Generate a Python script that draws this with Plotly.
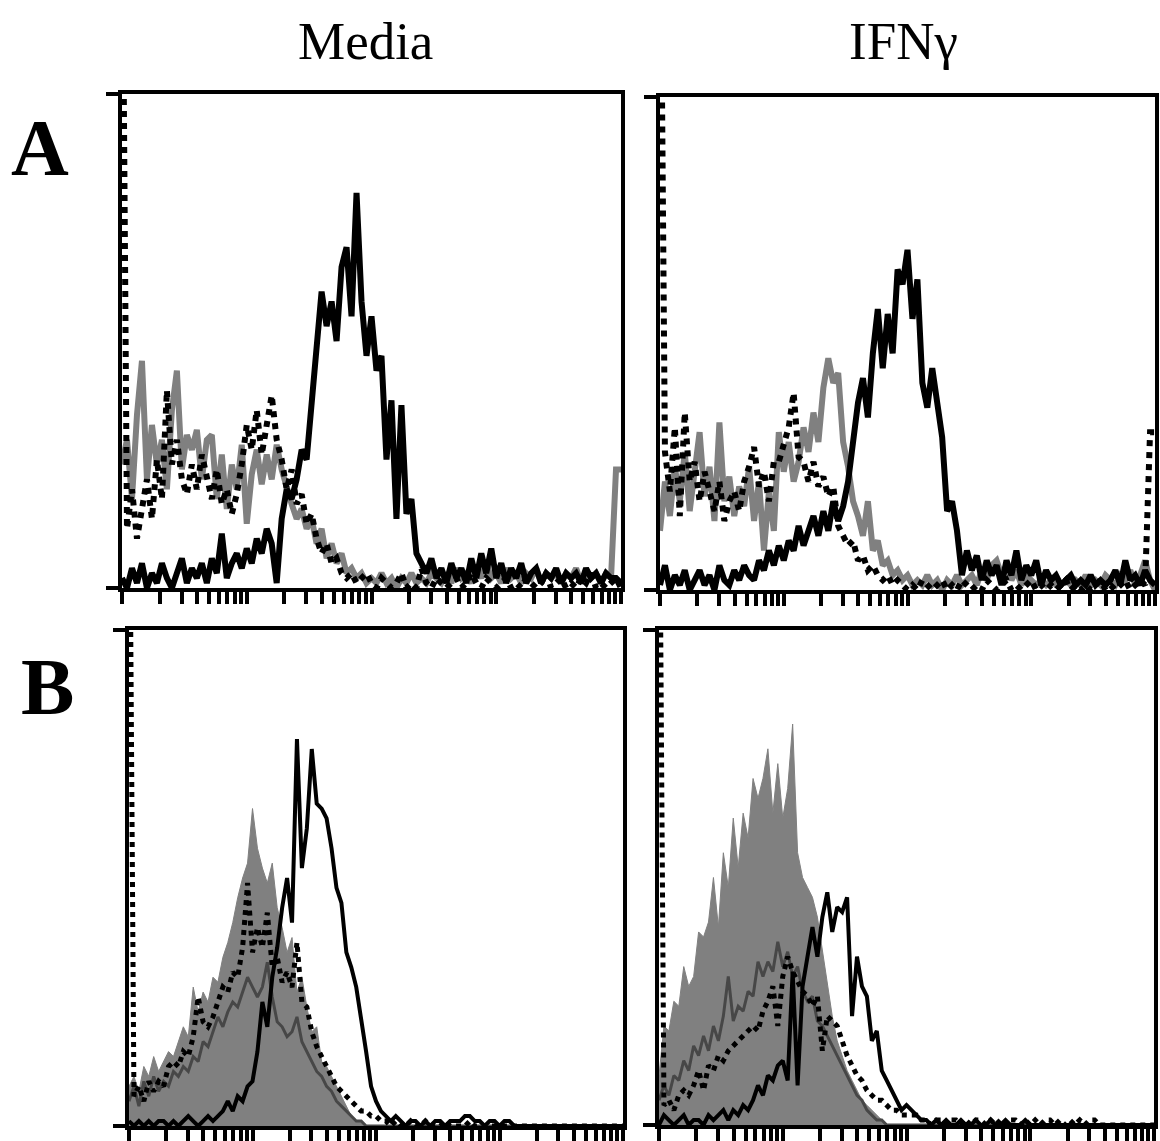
import plotly.graph_objects as go

W, H = 1160, 1141

# ---- bins (4-decade log scale, 101 bins) ----
bin_decade = [i / 25 for i in range(101)]
bin_x = [10 ** d for d in bin_decade]

# ---- Panel A, Media ----
a_media_gray = [25,30,18,35,46,22,33,25,30,20, 36,44,24,31,28,32,22,30,31,18,
                27,16,25,20,29,13,23,28,21,27, 22,29,24,20,17,14,16,12,14,9,
                12,6,9,5,7,3,4,2,3,1, 2,1,3,1,2,0,2,1,3,1,
                2,1,3,2,1,3,1,4,2,3, 1,4,2,5,2,3,1,4,2,3,
                1,3,2,4,1,3,2,3,1,3, 2,4,1,3,2,3,1,3,2,24, 24]
a_media_dotted = [150,12,20,10,16,22,14,26,18,40, 25,30,22,19,25,20,27,22,18,24,
                  17,20,15,19,25,33,28,36,27,33, 39,30,26,20,24,17,19,13,15,10,
                  7,9,5,6,3,2,3,1,2,3, 1,0,2,1,0,1,3,0,1,0,
                  4,1,0,2,1,0,1,2,0,1, 3,1,0,2,1,0,1,2,0,1,
                  0,2,1,0,1,3,0,1,2,0, 1,0,2,1,3,0,1,0,1,2, 0]
a_media_black = [2,0,4,1,5,0,3,1,5,2, 0,3,6,1,4,2,5,1,6,3,
                 11,2,5,7,4,8,5,10,7,12, 9,1,14,20,18,22,28,26,37,46,
                 60,53,58,50,65,69,55,80,58,47, 55,44,47,26,38,14,37,15,18,7,
                 5,3,6,2,4,1,5,2,4,1, 6,2,7,3,8,2,5,1,4,2,
                 5,1,3,4,1,3,2,4,1,3, 2,3,1,4,2,3,1,3,2,2, 1]

# ---- Panel A, IFNγ ----
a_ifn_gray = [12,22,15,25,18,28,16,24,32,19, 25,14,34,18,23,15,21,17,25,14,
              22,8,20,12,32,24,30,22,26,33, 28,36,30,41,47,42,44,30,25,18,
              15,11,18,8,10,5,6,3,4,2, 3,1,2,1,3,1,2,0,2,1,
              3,1,2,3,1,4,2,5,6,3, 5,2,4,1,3,2,1,2,1,2,
              1,1,2,1,2,1,3,1,2,1, 3,2,1,3,2,4,1,3,6,2, 0]
a_ifn_dotted = [150,28,20,33,15,36,22,26,18,24, 20,16,22,14,18,20,16,22,25,29,
                21,24,18,26,26,30,33,40,27,26, 22,26,21,23,19,21,13,11,9,10,
                6,7,4,5,3,2,3,1,2,1, 0,1,0,2,1,0,1,2,0,1,
                0,2,1,0,1,0,2,1,0,1, 2,0,1,0,1,2,0,1,0,1,
                0,1,2,0,1,0,1,0,1,2, 0,1,0,1,2,0,1,2,1,32, 32]
a_ifn_black = [1,5,0,3,1,4,0,2,4,1, 3,0,5,2,1,4,2,5,3,2,
               6,4,8,5,9,6,10,8,13,9, 12,15,11,16,12,18,14,17,22,30,
               38,43,35,48,57,45,56,48,65,62, 69,55,63,42,37,45,38,31,16,18,
               12,3,8,4,7,2,6,3,5,1, 6,3,8,2,5,3,6,1,4,2,
               3,1,2,3,1,2,1,3,1,2, 1,2,4,1,6,2,3,1,4,2, 1]

# ---- Panel B, Media ----
b_media_fill = [8,10,7,12,10,14,11,13,15,14, 17,20,18,28,23,27,25,30,29,34,
                37,41,46,50,53,64,56,52,49,53, 44,40,35,38,27,30,24,19,20,13,
                12,10,8,6,4,2,1,1,0,0, 0,0,0,0,0,0,0,0,0,0,
                0,0,0,0,0,0,0,0,0,0, 0,0,0,0,0,0,0,0,0,0,
                0,0,0,0,0,0,0,0,0,0, 0,0,0,0,0,0,0,0,0,0, 0]
b_media_darkgray = [5,8,4,9,6,10,7,9,8,11, 10,12,11,14,13,17,16,19,22,20,
                    23,25,24,27,30,28,26,28,33,26, 21,20,18,19,22,17,15,13,11,10,
                    8,7,5,4,3,2,1,1,0,0, 0,0,0,0,0,0,0,0,0,0,
                    0,0,0,0,0,0,0,0,0,0, 0,0,0,0,0,0,0,0,0,0,
                    0,0,0,0,0,0,0,0,0,0, 0,0,0,0,0,0,0,0,0,0, 0]
b_media_dotted = [150,6,8,5,9,7,9,8,12,13, 12,15,14,18,26,21,20,22,25,28,
                  27,31,30,36,49,35,40,36,43,32, 34,29,31,28,37,25,24,19,16,14,
                  12,10,8,7,6,5,4,3,3,2, 2,1,1,0,1,0,0,1,0,0,
                  1,0,0,0,1,0,0,0,0,1, 0,0,0,0,0,0,0,0,0,0,
                  0,0,0,0,0,0,0,0,0,0, 0,0,0,0,0,0,0,0,0,0, 0]
b_media_black = [1,0,1,0,1,0,1,1,0,1, 0,1,2,1,0,1,2,1,2,3,
                 5,3,6,5,8,9,15,25,20,30, 36,44,50,41,78,52,60,76,65,64,
                 62,56,48,45,35,32,28,22,15,8, 5,3,2,1,2,1,0,1,1,0,
                 1,0,1,1,0,1,1,1,2,2, 1,1,0,1,1,0,1,1,0,0,
                 0,0,0,0,0,0,0,0,0,0, 0,0,0,0,0,0,0,0,0,0, 0]

# ---- Panel B, IFNγ ----
b_ifn_fill = [10,20,19,25,24,32,28,30,39,38, 41,50,40,55,48,62,52,63,58,70,
              66,70,76,63,73,62,68,81,55,50, 48,46,42,35,28,22,17,14,11,9,
              7,5,4,3,2,1,0,0,0,0, 0,0,0,0,0,0,0,0,0,0,
              0,0,0,0,0,0,0,0,0,0, 0,0,0,0,0,0,0,0,0,0,
              0,0,0,0,0,0,0,0,0,0, 0,0,0,0,0,0,0,0,0,0, 0]
b_ifn_darkgray = [5,8,6,10,9,13,11,16,14,18, 15,20,17,22,30,21,24,23,27,26,
                  33,30,33,31,37,32,35,30,32,27, 25,26,21,20,18,16,14,12,10,8,
                  6,5,3,2,1,1,0,0,0,0, 0,0,0,0,0,0,0,0,0,0,
                  0,0,0,0,0,0,0,0,0,0, 0,0,0,0,0,0,0,0,0,0,
                  0,0,0,0,0,0,0,0,0,0, 0,0,0,0,0,0,0,0,0,0, 0]
b_ifn_dotted = [150,4,5,3,6,7,6,8,11,7, 12,11,14,13,15,16,17,18,19,20,
                19,23,25,28,20,30,34,31,29,27, 26,24,26,15,22,21,20,17,14,12,
                10,9,7,6,5,5,4,3,3,2, 2,2,2,1,1,0,1,1,0,1,
                1,0,1,0,1,1,0,1,0,1, 0,1,1,0,1,0,1,0,1,1,
                0,1,0,1,0,1,0,1,1,0, 0,0,0,0,0,0,0,0,0,0, 0]
b_ifn_black = [0,2,1,0,1,2,0,1,1,0, 2,1,2,3,1,3,2,4,3,5,
               8,6,10,9,12,13,9,31,8,28, 34,40,34,42,47,39,44,43,46,22,
               34,28,26,17,19,11,9,7,5,3, 4,3,2,1,1,0,1,0,1,0,
               0,1,0,0,1,0,0,1,0,0, 1,0,0,0,1,0,0,0,0,0,
               0,0,0,0,0,0,0,0,0,0, 0,0,0,0,0,0,0,0,0,0, 0]

column_titles = ["Media", "IFNγ"]
row_labels = ["A", "B"]

GRAY = "#808080"
DARK = "#474747"
BLACK = "#000000"

fig = go.Figure()

# panel pixel boxes in screen coords (left, top, right, bottom) of the inner plot area
panels = [
    ("x", "y", (122, 94, 621, 588)),
    ("x2", "y2", (660, 97, 1155, 590)),
    ("x3", "y3", (129, 630, 623, 1126)),
    ("x4", "y4", (659, 630, 1154, 1125)),
]

def add_line(xa, ya, yvals, color, width, dash="solid"):
    fig.add_trace(go.Scatter(x=bin_x, y=yvals, mode="lines", xaxis=xa, yaxis=ya,
                             line=dict(color=color, width=width, dash=dash),
                             showlegend=False, hoverinfo="skip"))

def add_fill(xa, ya, yvals, color):
    fig.add_trace(go.Scatter(x=bin_x, y=yvals, mode="lines", xaxis=xa, yaxis=ya,
                             line=dict(color=color, width=1), fill="tozeroy",
                             fillcolor=color, showlegend=False, hoverinfo="skip"))

# A Media
add_line("x", "y", a_media_gray, GRAY, 6)
add_line("x", "y", a_media_dotted, BLACK, 6, "dot")
add_line("x", "y", a_media_black, BLACK, 6)
# A IFN
add_line("x2", "y2", a_ifn_gray, GRAY, 6)
add_line("x2", "y2", a_ifn_dotted, BLACK, 6, "dot")
add_line("x2", "y2", a_ifn_black, BLACK, 6)
# B Media
add_fill("x3", "y3", b_media_fill, GRAY)
add_line("x3", "y3", b_media_darkgray, DARK, 3)
add_line("x3", "y3", b_media_dotted, BLACK, 5, "dot")
add_line("x3", "y3", b_media_black, BLACK, 4)
# B IFN
add_fill("x4", "y4", b_ifn_fill, GRAY)
add_line("x4", "y4", b_ifn_darkgray, DARK, 3)
add_line("x4", "y4", b_ifn_dotted, BLACK, 5, "dot")
add_line("x4", "y4", b_ifn_black, BLACK, 4)

log_ticks = [k * 10 ** d for d in range(4) for k in range(1, 10)] + [10 ** 4]

def px_x(p):
    return p / W

def px_y(p):
    return 1 - p / H

layout = dict(width=W, height=H, margin=dict(l=0, r=0, t=0, b=0),
              paper_bgcolor="white", plot_bgcolor="white")
for xa, ya, (l, t, r, b) in panels:
    xkey = "xaxis" + xa[1:]
    ykey = "yaxis" + ya[1:]
    layout[xkey] = dict(domain=[px_x(l), px_x(r)], anchor=ya, type="log", range=[0, 4],
                        showline=True, linecolor="black", linewidth=4, mirror=True,
                        ticks="outside", tickvals=log_ticks, ticklen=12, tickwidth=4,
                        tickcolor="black", showticklabels=False, showgrid=False,
                        zeroline=False)
    layout[ykey] = dict(domain=[px_y(b), px_y(t)], anchor=xa, range=[0, 100],
                        showline=True, linecolor="black", linewidth=4, mirror=True,
                        ticks="outside", tickvals=[0, 100], ticklen=12, tickwidth=4,
                        tickcolor="black", showticklabels=False, showgrid=False,
                        zeroline=False)
fig.update_layout(**layout)

serif = "Liberation Serif, Times New Roman, serif"
title_pos = [(365, 41), (903, 41)]
for txt, (px, py) in zip(column_titles, title_pos):
    fig.add_annotation(text=txt, x=px_x(px), y=px_y(py), xref="paper", yref="paper",
                       showarrow=False, xanchor="center", yanchor="middle",
                       font=dict(family=serif, size=53, color="black"))
label_pos = [(40, 148), (47, 687)]
for txt, (px, py) in zip(row_labels, label_pos):
    fig.add_annotation(text="<b>" + txt + "</b>", x=px_x(px), y=px_y(py),
                       xref="paper", yref="paper", showarrow=False,
                       xanchor="center", yanchor="middle",
                       font=dict(family=serif, size=80, color="black"))

fig.write_html("out.html",
               config={"displayModeBar": False},
               post_script="document.body.style.margin='0';"
                           "document.body.style.overflow='hidden';")
